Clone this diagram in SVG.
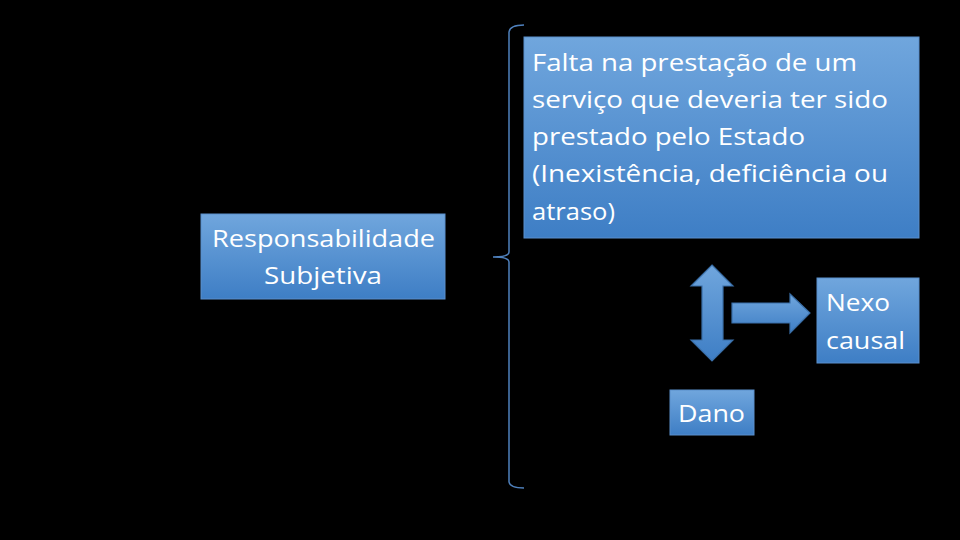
<svg xmlns="http://www.w3.org/2000/svg" width="960" height="540" viewBox="0 0 960 540">
<defs>
<linearGradient id="g" x1="0" y1="0" x2="0" y2="1">
<stop offset="0" stop-color="#70a6dd"/>
<stop offset="1" stop-color="#3e7ec5"/>
</linearGradient>
<style>
.box{fill:url(#g);stroke:#5a8fcc;stroke-width:1}
.t{font-family:"Open Sans","Noto Sans",Arial,sans-serif;font-size:24px;fill:#ffffff}
.arrow{fill:url(#g);stroke:#3a6fa8;stroke-width:1.2}
.brace{fill:none;stroke:#4f81bd;stroke-width:1.5}
</style>
</defs>
<rect width="960" height="540" fill="#000000"/>
<g id="connectors">
<path class="brace" d="M524,25 Q510,25 509,32 L509,252 Q509,257 493,257 Q509,257 509,262 L509,482 Q510,488 524,488"/>
<path class="arrow" d="M712,265 L733,286 L723,286 L723,340 L733,340 L712,361 L691,340 L702,340 L702,286 L691,286 Z"/>
<path class="arrow" d="M732,303 L790,303 L790,294 L810,313 L790,333 L790,323 L732,323 Z"/>
</g>
<g id="node-responsabilidade">
<rect class="box" x="201" y="214" width="244" height="85"/>
<text class="t" x="212" y="247" textLength="223" lengthAdjust="spacingAndGlyphs">Responsabilidade</text>
<text class="t" x="264" y="284" textLength="118" lengthAdjust="spacingAndGlyphs">Subjetiva</text>
</g>
<g id="node-falta">
<rect class="box" x="524" y="37" width="395" height="201"/>
<text class="t" x="532" y="71" textLength="325" lengthAdjust="spacingAndGlyphs">Falta na prestação de um</text>
<text class="t" x="532" y="108" textLength="356" lengthAdjust="spacingAndGlyphs">serviço que deveria ter sido</text>
<text class="t" x="532" y="145" textLength="273" lengthAdjust="spacingAndGlyphs">prestado pelo Estado</text>
<text class="t" x="532" y="182" textLength="356" lengthAdjust="spacingAndGlyphs">(Inexistência, deficiência ou</text>
<text class="t" x="532" y="220" textLength="83" lengthAdjust="spacingAndGlyphs">atraso)</text>
</g>
<g id="node-nexo">
<rect class="box" x="817" y="278" width="102" height="85"/>
<text class="t" x="826" y="311" textLength="64" lengthAdjust="spacingAndGlyphs">Nexo</text>
<text class="t" x="826" y="349" textLength="79" lengthAdjust="spacingAndGlyphs">causal</text>
</g>
<g id="node-dano">
<rect class="box" x="670" y="390" width="84" height="45"/>
<text class="t" x="678" y="422" textLength="67" lengthAdjust="spacingAndGlyphs">Dano</text>
</g>
</svg>
